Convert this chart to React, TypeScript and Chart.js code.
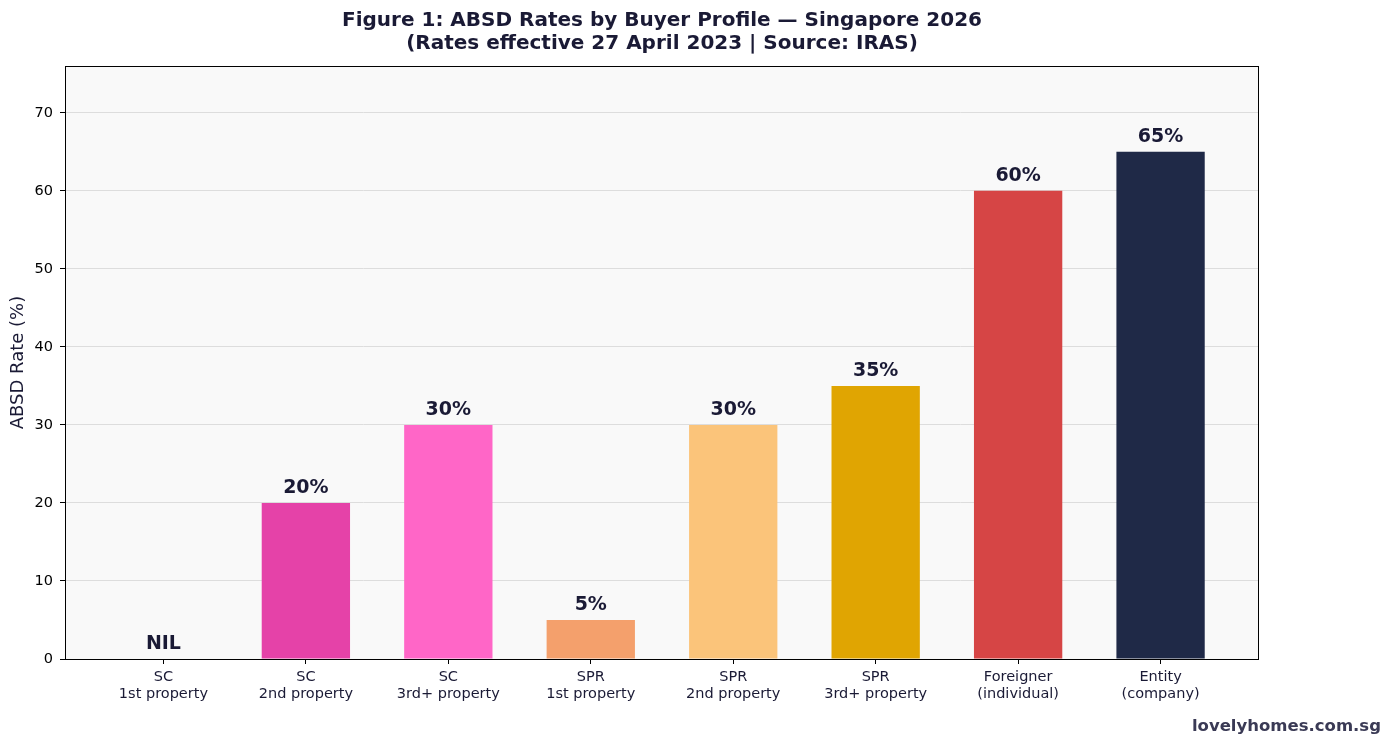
import React, { useEffect, useRef } from "react";
import { Chart, registerables } from "chart.js";

Chart.register(...registerables);

const categories: string[][] = [
  ["SC", "1st property"],
  ["SC", "2nd property"],
  ["SC", "3rd+ property"],
  ["SPR", "1st property"],
  ["SPR", "2nd property"],
  ["SPR", "3rd+ property"],
  ["Foreigner", "(individual)"],
  ["Entity", "(company)"],
];
const rates: number[] = [0, 20, 30, 5, 30, 35, 60, 65];
const barColors: string[] = [
  "#E542A8",
  "#E542A8",
  "#FF66C7",
  "#F4A06C",
  "#FBC47A",
  "#E0A502",
  "#D64545",
  "#1F2947",
];
const yTicks: number[] = [0, 10, 20, 30, 40, 50, 60, 70];
const titleLines: string[] = [
  "Figure 1: ABSD Rates by Buyer Profile \u2014 Singapore 2026",
  "(Rates effective 27 April 2023 | Source: IRAS)",
];
const yAxisTitle = "ABSD Rate (%)";
const watermark = "lovelyhomes.com.sg";

const FONT = "'DejaVu Sans', 'Noto Sans', sans-serif";
const DARK = "#1a1a35";

const plotPlugin = {
  id: "plotDecor",
  beforeDraw(chart: any) {
    const { ctx, chartArea: a } = chart;
    ctx.save();
    ctx.fillStyle = "#F9F9F9";
    ctx.fillRect(a.left, a.top, a.right - a.left, a.bottom - a.top);
    ctx.restore();
  },
  afterDatasetsDraw(chart: any) {
    const { ctx } = chart;
    const meta = chart.getDatasetMeta(0);
    ctx.save();
    ctx.font = `bold 19px ${FONT}`;
    ctx.fillStyle = DARK;
    ctx.textAlign = "center";
    ctx.textBaseline = "middle";
    meta.data.forEach((el: any, i: number) => {
      const v = rates[i];
      const txt = v === 0 ? "NIL" : `${v}%`;
      ctx.fillText(txt, el.x, el.y - 14.5);
    });
    ctx.restore();
  },
  afterDraw(chart: any) {
    const { ctx, chartArea: a, width, height } = chart;
    ctx.save();
    ctx.strokeStyle = "#000000";
    ctx.lineWidth = 1;
    ctx.strokeRect(a.left + 0.5, a.top + 0.5, a.right - a.left - 1, a.bottom - a.top);
    ctx.font = `bold 16.5px ${FONT}`;
    ctx.fillStyle = "#3a3a55";
    ctx.textAlign = "right";
    ctx.textBaseline = "middle";
    ctx.fillText(watermark, width - 3, height - 10);
    ctx.restore();
  },
};

export default function App() {
  const ref = useRef<HTMLCanvasElement | null>(null);
  useEffect(() => {
    if (!ref.current) return;
    const chart = new Chart(ref.current, {
      type: "bar",
      data: {
        datasets: [
          {
            data: rates.map((v, i) => ({ x: i, y: v })),
            backgroundColor: barColors,
            borderWidth: 0,
            inflateAmount: 0,
            barPercentage: 0.62,
            categoryPercentage: 1,
          },
        ],
      },
      options: {
        responsive: false,
        animation: false,
        devicePixelRatio: 1,
        layout: { padding: { left: 0, right: 125, top: 0, bottom: 0 } },
        plugins: {
          legend: { display: false },
          tooltip: { enabled: false },
          title: {
            display: true,
            text: titleLines,
            fullSize: false,
            color: DARK,
            font: { family: FONT, size: 20, weight: "bold", lineHeight: 1.15 },
            padding: { top: 1, bottom: 11 },
          },
        },
        scales: {
          x: {
            type: "linear",
            min: -0.691,
            max: 7.691,
            offset: false,
            afterBuildTicks(scale: any) {
              scale.ticks = categories.map((_, i) => ({ value: i }));
            },
            afterFit(scale: any) {
              scale.height = 78;
            },
            ticks: {
              autoSkip: false,
              maxRotation: 0,
              color: DARK,
              padding: 5,
              font: { family: FONT, size: 14.5, lineHeight: 1.17 },
              callback: (v: any) => categories[Math.round(Number(v))] ?? "",
            },
            grid: {
              display: true,
              offset: false,
              drawOnChartArea: false,
              drawTicks: true,
              tickLength: 5,
              color: "#000000",
            },
            border: { display: false },
          },
          y: {
            type: "linear",
            min: 0,
            max: 76,
            afterBuildTicks(scale: any) {
              scale.ticks = yTicks.map((v) => ({ value: v }));
            },
            afterFit(scale: any) {
              scale.width = 57;
            },
            ticks: {
              color: "#000000",
              padding: 7,
              font: { family: FONT, size: 14.5 },
            },
            grid: {
              display: true,
              color: "#DDDDDD",
              tickColor: "#000000",
              tickLength: 5,
              lineWidth: 1,
            },
            border: { display: false },
            title: {
              display: true,
              text: yAxisTitle,
              color: DARK,
              font: { family: FONT, size: 18 },
              padding: { top: 0, bottom: 0 },
            },
          },
        },
      },
      plugins: [plotPlugin],
    });
    return () => chart.destroy();
  }, []);
  return (
    <div style={{ width: 1376, height: 729 }}>
      <canvas ref={ref} width={1376} height={729} style={{ display: "block" }} />
    </div>
  );
}
